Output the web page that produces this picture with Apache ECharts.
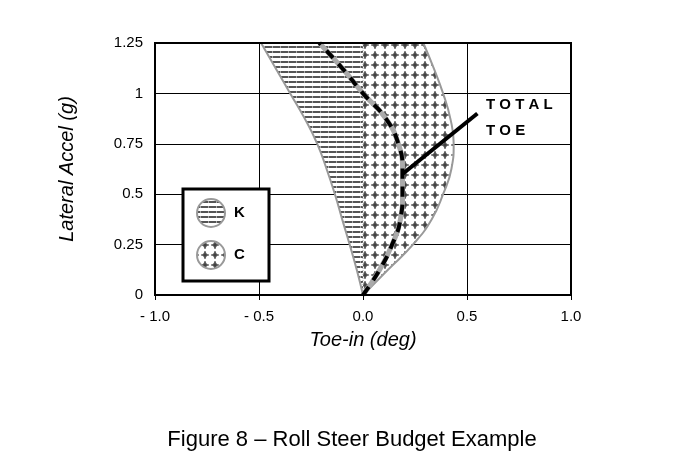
<!DOCTYPE html><html><head><meta charset="utf-8">
<script src="https://cdn.jsdelivr.net/npm/echarts@6/dist/echarts.min.js"></script>
<style>body{margin:0;background:#fff}#c{width:694px;height:474px}</style></head><body><div id="c"></div>
<script>
const accel = [0, 0.125, 0.25, 0.375, 0.5, 0.625, 0.75, 0.875, 1.0, 1.125, 1.25];
const kToe = [0, -0.03, -0.064, -0.10, -0.135, -0.175, -0.22, -0.28, -0.35, -0.42, -0.49];
const cToe = [0, 0.12, 0.24, 0.33, 0.385, 0.425, 0.436, 0.42, 0.385, 0.34, 0.29];
const totalToe = [0, 0.08, 0.14, 0.18, 0.19, 0.19, 0.17, 0.11, 0.0, -0.10, -0.21];
const xTicks = ['- 1.0', '- 0.5', '0.0', '0.5', '1.0'];

function mkPattern(kind){
  const c=document.createElement('canvas');
  if(kind==='K'){c.width=8;c.height=5;const g=c.getContext('2d');g.fillStyle='#fff';g.fillRect(0,0,8,5);
    g.fillStyle='#555';g.fillRect(0,1,8,2);g.fillStyle='#aaa';g.fillRect(0,1,1,2);}
  else{c.width=10;c.height=10;const g=c.getContext('2d');g.fillStyle='#fff';g.fillRect(0,0,10,10);
    g.fillStyle='#777';g.beginPath();g.moveTo(5,1.5);g.lineTo(8,5);g.lineTo(5,8.5);g.lineTo(2,5);g.closePath();g.fill();
    g.fillStyle='#333';g.fillRect(4.5,1,1,8);g.fillRect(1,4.5,8,1);}
  return {image:c,repeat:'repeat'};
}
const patK=mkPattern('K'), patC=mkPattern('C');

function polySeries(vals, pat){
  return {type:'custom', z:1, data:[0], renderItem:(p,api)=>{
    const pts=accel.map((a,i)=>api.coord([vals[i],a]));
    for(let i=accel.length-1;i>=0;i--) pts.push(api.coord([0,accel[i]]));
    return {type:'polygon',shape:{points:pts,smooth:0},style:{fill:pat,stroke:null}};
  }};
}
const chart=echarts.init(document.getElementById('c'));
const lineData=v=>accel.map((a,i)=>[v[i],a]);
chart.setOption({
  animation:false,
  grid:{left:155,right:123,top:43,bottom:179},
  xAxis:{type:'value',min:-1,max:1,interval:0.5,
    name:'Toe-in (deg)',nameLocation:'middle',nameGap:35,
    nameTextStyle:{fontSize:20,fontStyle:'italic',color:'#000',fontFamily:'Liberation Sans'},
    axisLabel:{color:'#000',fontSize:15,fontFamily:'Liberation Sans',margin:14,formatter:(v)=>xTicks[Math.round((v+1)*2)]},
    axisLine:{show:false},axisTick:{show:true,inside:false,length:5,lineStyle:{color:'#000'}},
    splitLine:{lineStyle:{color:'#000',width:1}}},
  yAxis:{type:'value',min:0,max:1.25,interval:0.25,
    name:'Lateral Accel (g)',nameLocation:'middle',nameGap:78,
    nameTextStyle:{fontSize:20,fontStyle:'italic',color:'#000',fontFamily:'Liberation Sans'},
    axisLabel:{color:'#000',fontSize:15,fontFamily:'Liberation Sans',margin:12,formatter:v=>String(+v.toFixed(2))},
    axisLine:{show:false},axisTick:{show:true,length:5,lineStyle:{color:'#000'}},
    splitLine:{lineStyle:{color:'#000',width:1}}},
  series:[
    polySeries(kToe,patK),
    polySeries(cToe,patC),
    {type:'line',data:[[0,0],[0,1.25]],symbol:'none',z:2,lineStyle:{color:'#aaa',width:1,type:'dotted'}},
    {type:'line',data:lineData(kToe),smooth:true,symbol:'none',z:3,lineStyle:{color:'#999',width:2}},
    {type:'line',data:lineData(cToe),smooth:true,symbol:'none',z:3,lineStyle:{color:'#999',width:2}},
    {type:'line',data:lineData(totalToe),smooth:true,symbol:'none',z:4,lineStyle:{color:'#aaa',width:5}},
    {type:'line',data:lineData(totalToe),smooth:true,symbol:'none',z:5,lineStyle:{color:'#000',width:4,type:[10,8]}},
    {type:'line',data:[[0.19,0.6],[0.55,0.9]],symbol:'none',z:6,lineStyle:{color:'#000',width:4}}
  ],
  graphic:[
    {type:'rect',shape:{x:155,y:43,width:416,height:252},style:{fill:null,stroke:'#000',lineWidth:2},z:10},
    {type:'rect',shape:{x:183,y:189,width:86,height:92},style:{fill:'#fff',stroke:'#000',lineWidth:3},z:20},
    {type:'circle',shape:{cx:211,cy:213,r:14},style:{fill:patK,stroke:'#999',lineWidth:2},z:21},
    {type:'circle',shape:{cx:211,cy:255,r:14},style:{fill:patC,stroke:'#999',lineWidth:2},z:21},
    {type:'text',x:234,y:205,style:{text:'K',font:'bold 15px Liberation Sans',fill:'#000'},z:21},
    {type:'text',x:234,y:247,style:{text:'C',font:'bold 15px Liberation Sans',fill:'#000'},z:21},
    {type:'text',x:486,y:97,style:{text:'T O T A L',font:'bold 15px Liberation Sans',fill:'#000'},z:21},
    {type:'text',x:486,y:123,style:{text:'T O E',font:'bold 15px Liberation Sans',fill:'#000'},z:21},
    {type:'text',x:352,y:440,style:{text:'Figure 8 – Roll Steer Budget Example',font:'22px Liberation Sans',fill:'#000',align:'center',verticalAlign:'middle'}}
  ]
});
</script></body></html>
